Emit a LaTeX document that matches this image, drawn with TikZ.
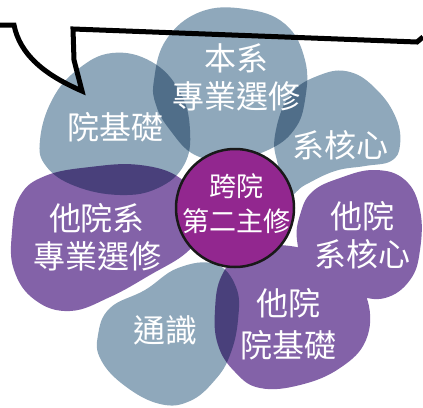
\documentclass[tikz,border=0pt]{standalone}
\usepackage{fontspec}
\setmainfont{Noto Sans CJK TC}
\usepackage{xcolor}
\definecolor{blobblue}{HTML}{8FA8BB}
\definecolor{blobpurple}{HTML}{8362A8}
\definecolor{hubpurple}{HTML}{92278F}

\begin{document}
\begin{tikzpicture}[x=1pt, y=-1pt,
    blue blob/.style={fill=blobblue},
    purple blob/.style={fill=blobpurple},
    lbl/.style={text=white, align=center, inner sep=0pt, font=\fontsize{32}{38}\selectfont}]
        \useasboundingbox (0,0) rectangle (423,407);

        % Blobs, overlaps darken
        \begin{scope}[blend mode=multiply]
        \fill[blue blob] plot[smooth cycle, tension=0.7] coordinates {(40,140) (52,100) (77,70) (112,53) (152,62) (180,92) (190,130) (184,165) (158,188) (120,195) (75,186) (46,166)};
        \fill[blue blob] plot[smooth cycle, tension=0.7] coordinates {(154,80) (166,40) (200,12) (245,9) (285,24) (305,60) (305,100) (294,130) (268,150) (230,160) (195,155) (170,130) (156,105)};
        \fill[blue blob] plot[smooth cycle, tension=0.7] coordinates {(275,135) (290,95) (320,75) (350,72) (377,90) (396,118) (400,145) (391,161) (365,166) (335,171) (305,185) (288,195) (278,165)};
        \fill[purple blob] plot[smooth cycle, tension=0.7] coordinates {(12,232) (20,196) (45,176) (90,167) (140,165) (180,178) (197,205) (198,233) (186,253) (150,275) (110,297) (70,311) (35,300) (14,270)};
        % two purple blobs on the right as one shape
        \fill[purple blob] plot[smooth cycle, tension=0.7] coordinates {(300,215) (312,192) (340,178) (375,170) (405,180) (420,210) (420,250) (410,280) (385,298) (355,295) (330,285) (306,265) (297,240)}
            plot[smooth cycle, tension=0.7] coordinates {(215,310) (222,275) (245,250) (280,245) (320,255) (350,280) (368,302) (366,340) (340,368) (300,385) (260,388) (235,372) (218,345)};
        \fill[blue blob] plot[smooth cycle, tension=0.7] coordinates {(98,335) (110,308) (145,290) (178,268) (215,264) (236,287) (238,320) (230,355) (215,380) (190,401) (160,404) (125,386) (101,360)};
        \end{scope}

        % Bubble outline
        \draw[line width=5pt, line join=miter] (0,25) -- (14,25) .. controls (20,55) and (45,75) .. (82,91) -- (74,60) -- (73,29) -- (417,42) -- (423,37);

        % Hub
        \node[draw=black!90, line width=2.5pt, circle, fill=hubpurple, minimum size=118pt] (hub) at (235,208) {};
        \node[lbl, font=\fontsize{27}{35}\selectfont] (hubtext) at (236,204) {跨院\\第二主修};

        % Labels
        \node[lbl] (benxi) at (236,77) {本系\\專業選修};
        \node[lbl] (yuanji) at (115,127) {院基礎};
        \node[lbl] (xihe) at (340,145) {系核心};
        \node[lbl] (taxizhuan) at (97,237) {他院系\\專業選修};
        \node[lbl] (taxihe) at (362,235) {他院\\系核心};
        \node[lbl] (tongshi) at (165,330) {通識};
        \node[lbl, font=\fontsize{32}{42}\selectfont] (tayuanji) at (288,324) {他院\\院基礎};
    \end{tikzpicture}
\end{document}
